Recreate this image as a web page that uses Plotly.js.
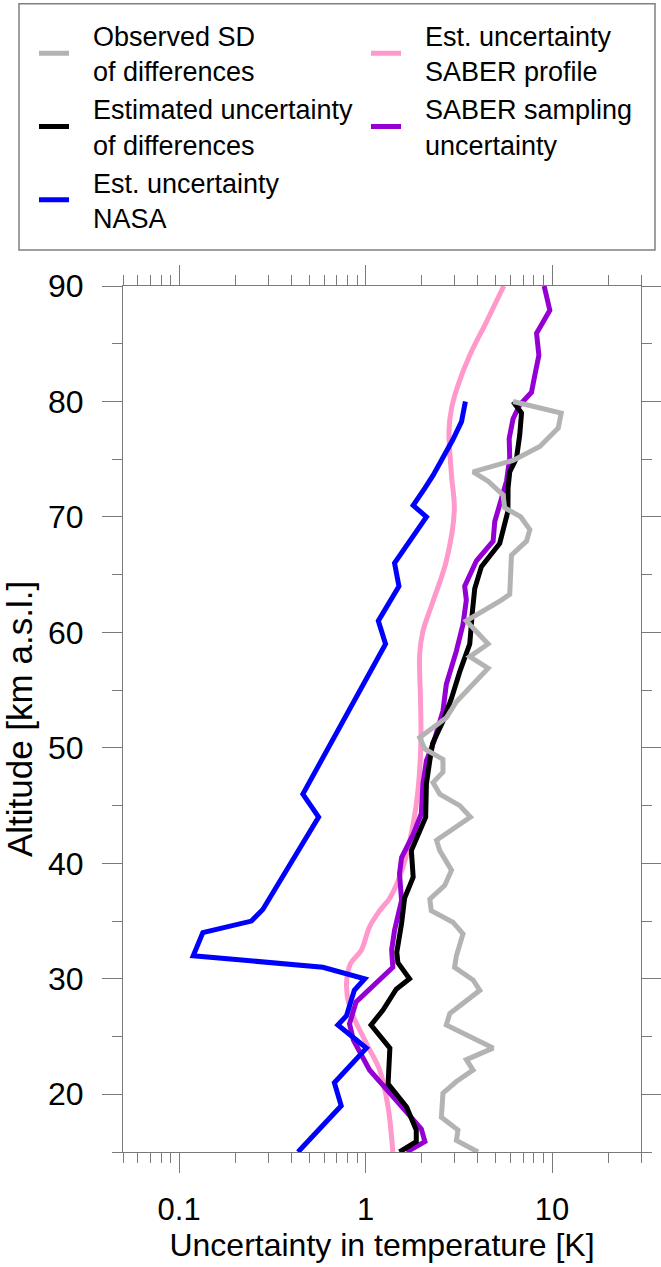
<!DOCTYPE html>
<html>
<head>
<meta charset="utf-8">
<script src="https://cdn.plot.ly/plotly-3.0.1.min.js"></script>
<style>
html, body { margin: 0; padding: 0; background: #fff; }
#chart { width: 661px; height: 1267px; }
</style>
</head>
<body>
<div id="chart"></div>
<script>
// ---- Data (altitude in km, uncertainty in K) ----
const seriesNames = [
  ["Observed SD", "of differences"],
  ["Estimated uncertainty", "of differences"],
  ["Est. uncertainty", "NASA"],
  ["Est. uncertainty", "SABER profile"],
  ["SABER sampling", "uncertainty"]
];

const obsSdAlt = [80, 79, 77.7, 76.1, 74.9, 73.9, 73.1, 71.9, 70.8, 70, 68.9, 67.9, 66.7, 63.3, 62.7, 61, 59, 57.9, 56.9, 54, 52.6, 50.9, 49.9, 49, 47.9, 47, 46, 45, 44, 42, 41.1, 39.4, 38.1, 36.9, 35.9, 34.9, 33.9, 32, 31, 29.9, 29, 27, 26, 24, 23, 22.1, 21.1, 20.1, 18, 16.9, 16, 15];
const obsSdVal = [6.18, 11.2, 10.8, 8.6, 6.18, 3.77, 4.54, 5.46, 5.57, 6.8, 7.6, 7.3, 6.06, 5.93, 5.24, 3.47, 4.54, 3.62, 4.54, 3.07, 2.71, 1.95, 2.08, 2.6, 2.6, 2.3, 2.5, 3.2, 3.65, 2.4, 2.5, 2.89, 2.66, 2.21, 2.25, 2.94, 3.33, 3.07, 3.0, 3.77, 4.1, 2.83, 2.71, 4.83, 3.47, 3.77, 3.07, 2.6, 2.55, 3.13, 3.07, 4.01];

const estDiffAlt = [80, 79, 77.1, 75.1, 73.9, 72.5, 70.5, 69, 67.7, 65.7, 63.8, 61.8, 59, 56.6, 54.3, 52.3, 50.4, 48.9, 46.9, 44, 41.1, 38.8, 37, 34.8, 32.3, 31.4, 30, 29.1, 27.3, 26, 24, 20.9, 18.9, 16.9, 15.9, 15];
const estDiffVal = [6.18, 6.86, 6.71, 6.45, 5.93, 5.81, 5.8, 5.51, 5.24, 4.18, 3.85, 3.74, 3.62, 3.2, 2.89, 2.6, 2.29, 2.21, 2.12, 2.1, 1.76, 1.8, 1.62, 1.56, 1.47, 1.49, 1.72, 1.46, 1.24, 1.07, 1.35, 1.32, 1.66, 1.87, 1.87, 1.52];

const nasaAlt = [80, 78.25, 76.7, 75.1, 73.6, 72.5, 71, 70, 66, 64, 61, 59, 46, 44, 36, 35, 34, 32, 31, 30, 29, 26.8, 26, 24, 21, 19, 15];
const nasaVal = [3.43, 3.27, 2.94, 2.6, 2.3, 2.08, 1.8, 2.12, 1.43, 1.51, 1.17, 1.28, 0.461, 0.56, 0.281, 0.244, 0.134, 0.119, 0.59, 0.99, 0.87, 0.79, 0.71, 1.01, 0.68, 0.74, 0.434];

const saberProfAlt = [90, 86.9, 84, 81.4, 79.4, 77.4, 73.6, 70.5, 66.2, 62.7, 60.1, 58.1, 54.3, 50.5, 46.3, 43.4, 39.7, 37, 35.9, 34.5, 32.5, 31.3, 29.6, 27.6, 24.4, 22.1, 18.9, 15];
const saberProfVal = [5.51, 4.45, 3.62, 3.13, 2.89, 2.8, 2.89, 2.99, 2.71, 2.3, 2.03, 1.95, 1.97, 1.98, 1.91, 1.8, 1.59, 1.35, 1.19, 1.05, 0.95, 0.83, 0.79, 0.82, 1.01, 1.19, 1.32, 1.4];

const saberSampAlt = [90, 87.9, 85.9, 84, 82.3, 80.8, 79.7, 78.5, 76.8, 75.1, 73.1, 71, 69.6, 67.9, 66.2, 64, 62.8, 60.7, 58.4, 55.5, 53.2, 50.5, 48.9, 46.9, 44.3, 42.5, 40.5, 39.1, 36.8, 34.2, 32.5, 31, 29.9, 28, 26.1, 24.7, 22.1, 20.1, 18, 17, 15.9, 15];
const saberSampVal = [9.07, 9.73, 8.26, 8.5, 8.09, 7.76, 6.71, 6.18, 5.89, 5.93, 5.7, 5.2, 4.93, 4.83, 3.93, 3.4, 3.47, 3.33, 3.07, 2.71, 2.6, 2.32, 2.12, 2.03, 1.99, 1.8, 1.56, 1.52, 1.56, 1.43, 1.38, 1.4, 1.19, 0.89, 0.82, 0.86, 1.05, 1.35, 1.76, 1.99, 2.08, 1.66];

// Axis ticks
const xMajorTicks = [0.1, 1, 10];
const xMajorLabels = ["0.1", "1", "10"];
const xMinorTicks = [0.05, 0.06, 0.07, 0.08, 0.09, 0.2, 0.3, 0.4, 0.5, 0.6, 0.7, 0.8, 0.9, 2, 3, 4, 5, 6, 7, 8, 9, 20, 30];
const xRange = [0.05, 30];
const yRange = [15, 90];

// ---- Styling ----
const FONT = "Liberation Sans, Arial, Helvetica, sans-serif";
const AXC = "#7a7a7a";
const LW = 5;
const W = 661, H = 1267;
const M = {l: 123, r: 20, t: 284, b: 115};
const pw = W - M.l - M.r, ph = H - M.t - M.b;
const px2x = p => (p - M.l) / pw;
const px2y = p => (H - M.b - p) / ph;
// gap between legend line sample and its text
const PAD = "\u2002\u2009";
const legendLabel = lines => lines.map(s => PAD + s).join("<br>");

function tr(x, y, lines, color, legend, rank, shape) {
  const name = legendLabel(lines);
  return {
    type: "scatter", mode: "lines", x: x, y: y, name: name,
    line: {color: color, width: LW, shape: shape || "linear", smoothing: 1},
    legend: legend, legendrank: rank, legendgroup: name,
    hoverinfo: "skip"
  };
}

const data = [
  tr(saberProfVal, saberProfAlt, seriesNames[3], "#ff99cc", "legend2", 1, "spline"),
  tr(saberSampVal, saberSampAlt, seriesNames[4], "#9400d3", "legend2", 2),
  tr(estDiffVal, estDiffAlt, seriesNames[1], "#000000", "legend", 2),
  tr(obsSdVal, obsSdAlt, seriesNames[0], "#b3b3b3", "legend", 1),
  tr(nasaVal, nasaAlt, seriesNames[2], "#0000ff", "legend", 3)
];

const legendCommon = {
  xanchor: "left", yanchor: "top", orientation: "v",
  bgcolor: "rgba(0,0,0,0)", borderwidth: 0,
  font: {family: FONT, size: 27, color: "#000"},
  tracegroupgap: 2, itemwidth: 30, valign: "middle", traceorder: "normal"
};

const layout = {
  width: W, height: H,
  margin: {l: M.l, r: M.r, t: M.t, b: M.b, pad: 0},
  paper_bgcolor: "#fff", plot_bgcolor: "#fff",
  font: {family: FONT, color: "#000"},
  showlegend: true,
  legend: Object.assign({}, legendCommon, {x: px2x(34), y: px2y(9)}),
  legend2: Object.assign({}, legendCommon, {x: px2x(366), y: px2y(9)}),
  xaxis: {
    type: "log",
    range: xRange.map(Math.log10),
    tickmode: "array", tickvals: xMajorTicks, ticktext: xMajorLabels,
    ticks: "outside", ticklen: 20, tickwidth: 1, tickcolor: AXC,
    showline: true, linecolor: AXC, linewidth: 1, mirror: "ticks",
    showgrid: false, zeroline: false,
    tickfont: {family: FONT, size: 31, color: "#000"},
    ticklabelstandoff: 10,
    minor: {tickmode: "array", tickvals: xMinorTicks, ticks: "outside", ticklen: 10, tickwidth: 1, tickcolor: AXC, showgrid: false},
    title: {text: "Uncertainty in temperature [K]", font: {family: FONT, size: 32, color: "#000"}, standoff: 0}
  },
  yaxis: {
    range: yRange, tick0: 0, dtick: 10,
    ticks: "outside", ticklen: 20, tickwidth: 1, tickcolor: AXC,
    showline: true, linecolor: AXC, linewidth: 1, mirror: "ticks",
    showgrid: false, zeroline: false,
    tickfont: {family: FONT, size: 32, color: "#000"},
    ticklabelstandoff: 12,
    minor: {tick0: 0, dtick: 5, ticks: "outside", ticklen: 10, tickwidth: 1, tickcolor: AXC, showgrid: false},
    title: {text: "Altitude [km a.s.l.]", font: {family: FONT, size: 35, color: "#000"}, standoff: 8}
  },
  shapes: [{
    type: "rect", xref: "paper", yref: "paper",
    x0: px2x(19), x1: px2x(655), y0: px2y(248), y1: px2y(1),
    line: {color: "#808080", width: 1.5}, fillcolor: "rgba(0,0,0,0)", layer: "above"
  }]
};

Plotly.newPlot("chart", data, layout, {displayModeBar: false, staticPlot: true});
</script>
</body>
</html>
